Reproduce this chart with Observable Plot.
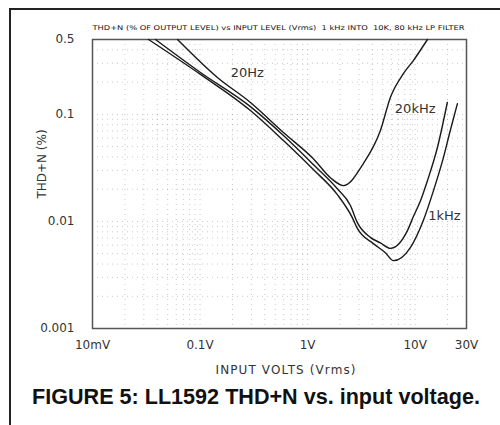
<!DOCTYPE html>
<html><head><meta charset="utf-8">
<script src="https://cdn.jsdelivr.net/npm/d3@7"></script>
<script src="https://cdn.jsdelivr.net/npm/@observablehq/plot@0.6"></script>
<style>
body{margin:0;background:#fff;width:500px;height:425px;overflow:hidden;position:relative;font-family:"DejaVu Sans",sans-serif;}
#border{position:absolute;left:9px;top:8px;width:600px;height:600px;border-left:2px solid #222;border-top:2px solid #222;}
#chart{position:absolute;left:0;top:0;}
#caption{position:absolute;left:32px;top:384px;font:bold 22.5px "Liberation Sans Narrow","Arial Narrow","Liberation Sans",sans-serif;color:#111;white-space:nowrap;transform-origin:0 0;}
</style></head><body>
<div id="border"></div>
<div id="chart"></div>
<div id="caption">FIGURE 5: LL1592 THD+N vs. input voltage.</div>
<script>
// ---- data ----
const volts20Hz = [0.0617, 0.145, 0.294, 0.596, 1.13, 1.63, 2.15, 3.30, 4.75, 5.88, 7.77, 9.62, 13.0];
const thd20Hz   = [0.5, 0.221, 0.129, 0.0676, 0.0385, 0.0256, 0.0216, 0.0347, 0.0706, 0.144, 0.240, 0.318, 0.5];

const volts20kHz = [0.0385, 0.1009, 0.294, 0.596, 1.13, 1.89, 2.50, 2.90, 3.83, 4.75, 5.88, 8.47, 9.62, 11.2, 13.0, 16.1, 19.9];
const thd20kHz   = [0.5, 0.246, 0.118, 0.0634, 0.034, 0.0202, 0.0141, 0.00975, 0.0071, 0.0063, 0.0056, 0.0082, 0.0111, 0.0156, 0.0240, 0.049, 0.129];

const volts1kHz = [0.0332, 0.1009, 0.294, 0.596, 1.13, 1.89, 2.61, 2.90, 4.09, 5.28, 6.27, 9.02, 11.9, 14.8, 18.3, 21.2, 24.7];
const thd1kHz   = [0.5, 0.236, 0.1085, 0.0569, 0.0305, 0.0178, 0.0108, 0.0086, 0.0062, 0.0051, 0.0043, 0.0057, 0.0102, 0.0194, 0.0394, 0.0706, 0.126];

const seriesNames = ["20Hz", "20kHz", "1kHz"];
const labelVolts  = [0.275, 10.0, 18.7];
const labelThd    = [0.246, 0.113, 0.0113];

const xTicks = [0.01, 0.1, 1, 10, 30];
const xTickLabels = ["10mV", "0.1V", "1V", "10V", "30V"];
const yTicks = [0.001, 0.01, 0.1, 0.5];
const yTickLabels = ["0.001", "0.01", "0.1", "0.5"];

const titleText = "THD+N (% OF OUTPUT LEVEL) vs INPUT LEVEL (Vrms)  1 kHz INTO  10K, 80 kHz LP FILTER";
const xLabel = "INPUT VOLTS (Vrms)";
const yLabel = "THD+N (%)";

// ---- build table ----
const allVolts = [volts20Hz, volts20kHz, volts1kHz];
const allThd = [thd20Hz, thd20kHz, thd1kHz];
const rows = [];
seriesNames.forEach((s, i) => allVolts[i].forEach((v, j) => rows.push({series: s, v, thd: allThd[i][j]})));
const labels = seriesNames.map((s, i) => ({series: s, v: labelVolts[i], thd: labelThd[i]}));
const yTickRows = yTicks.map((t, i) => ({t, label: yTickLabels[i]}));

const xGrid = d3.scaleLog().domain([0.01, 30]).ticks();
const yGrid = d3.scaleLog().domain([0.001, 0.5]).ticks();

const font = "DejaVu Sans, sans-serif";
const chart = Plot.plot({
  width: 500, height: 385,
  marginLeft: 92, marginRight: 34, marginTop: 39, marginBottom: 57,
  style: {fontFamily: font, background: "transparent", color: "#333"},
  x: {type: "log", domain: [0.01, 30]},
  y: {type: "log", domain: [0.001, 0.5], axis: null},
  marks: [
    Plot.gridX(xGrid, {stroke: "#888", strokeOpacity: 0.45, strokeDasharray: "1,4"}),
    Plot.gridY(yGrid, {stroke: "#888", strokeOpacity: 0.45, strokeDasharray: "1,4"}),
    Plot.frame({stroke: "#555", strokeWidth: 1.5}),
    Plot.axisX({ticks: xTicks, tickFormat: d => xTickLabels[xTicks.indexOf(d)], tickSize: 0, tickPadding: 12, fontSize: 12, label: null}),
    Plot.text(yTickRows, {y: "t", text: "label", frameAnchor: "left", textAnchor: "end", dx: -18, fontSize: 12, fill: "#333"}),
    Plot.line(rows, {x: "v", y: "thd", z: "series", stroke: "#1a1a1a", strokeWidth: 1.4, curve: "monotone-x"}),
    Plot.text(labels, {x: "v", y: "thd", text: "series", fontSize: 13, fill: "#333"}),
    Plot.text([titleText], {frameAnchor: "top-left", dy: -14, textAnchor: "start", fontSize: 6.5, fill: "#111"}),
    Plot.text([xLabel], {frameAnchor: "bottom", dy: 45, dx: 6, fontSize: 12, fill: "#333"}),
    Plot.text([yLabel], {frameAnchor: "left", dx: -50, dy: -20, rotate: -90, textAnchor: "middle", fontSize: 12, fill: "#333"})
  ]
});
document.getElementById("chart").appendChild(chart);
chart.querySelectorAll("text").forEach(t => {
  if (t.textContent === titleText) { t.setAttribute("textLength", "372"); t.setAttribute("lengthAdjust", "spacingAndGlyphs"); }
  if (t.textContent === xLabel) { t.setAttribute("textLength", "140"); t.setAttribute("lengthAdjust", "spacing"); }
});
// fit caption width to the reference span
const cap = document.getElementById("caption");
const w = cap.getBoundingClientRect().width;
cap.style.transform = `scaleX(${448 / w})`;
</script>
</body></html>
